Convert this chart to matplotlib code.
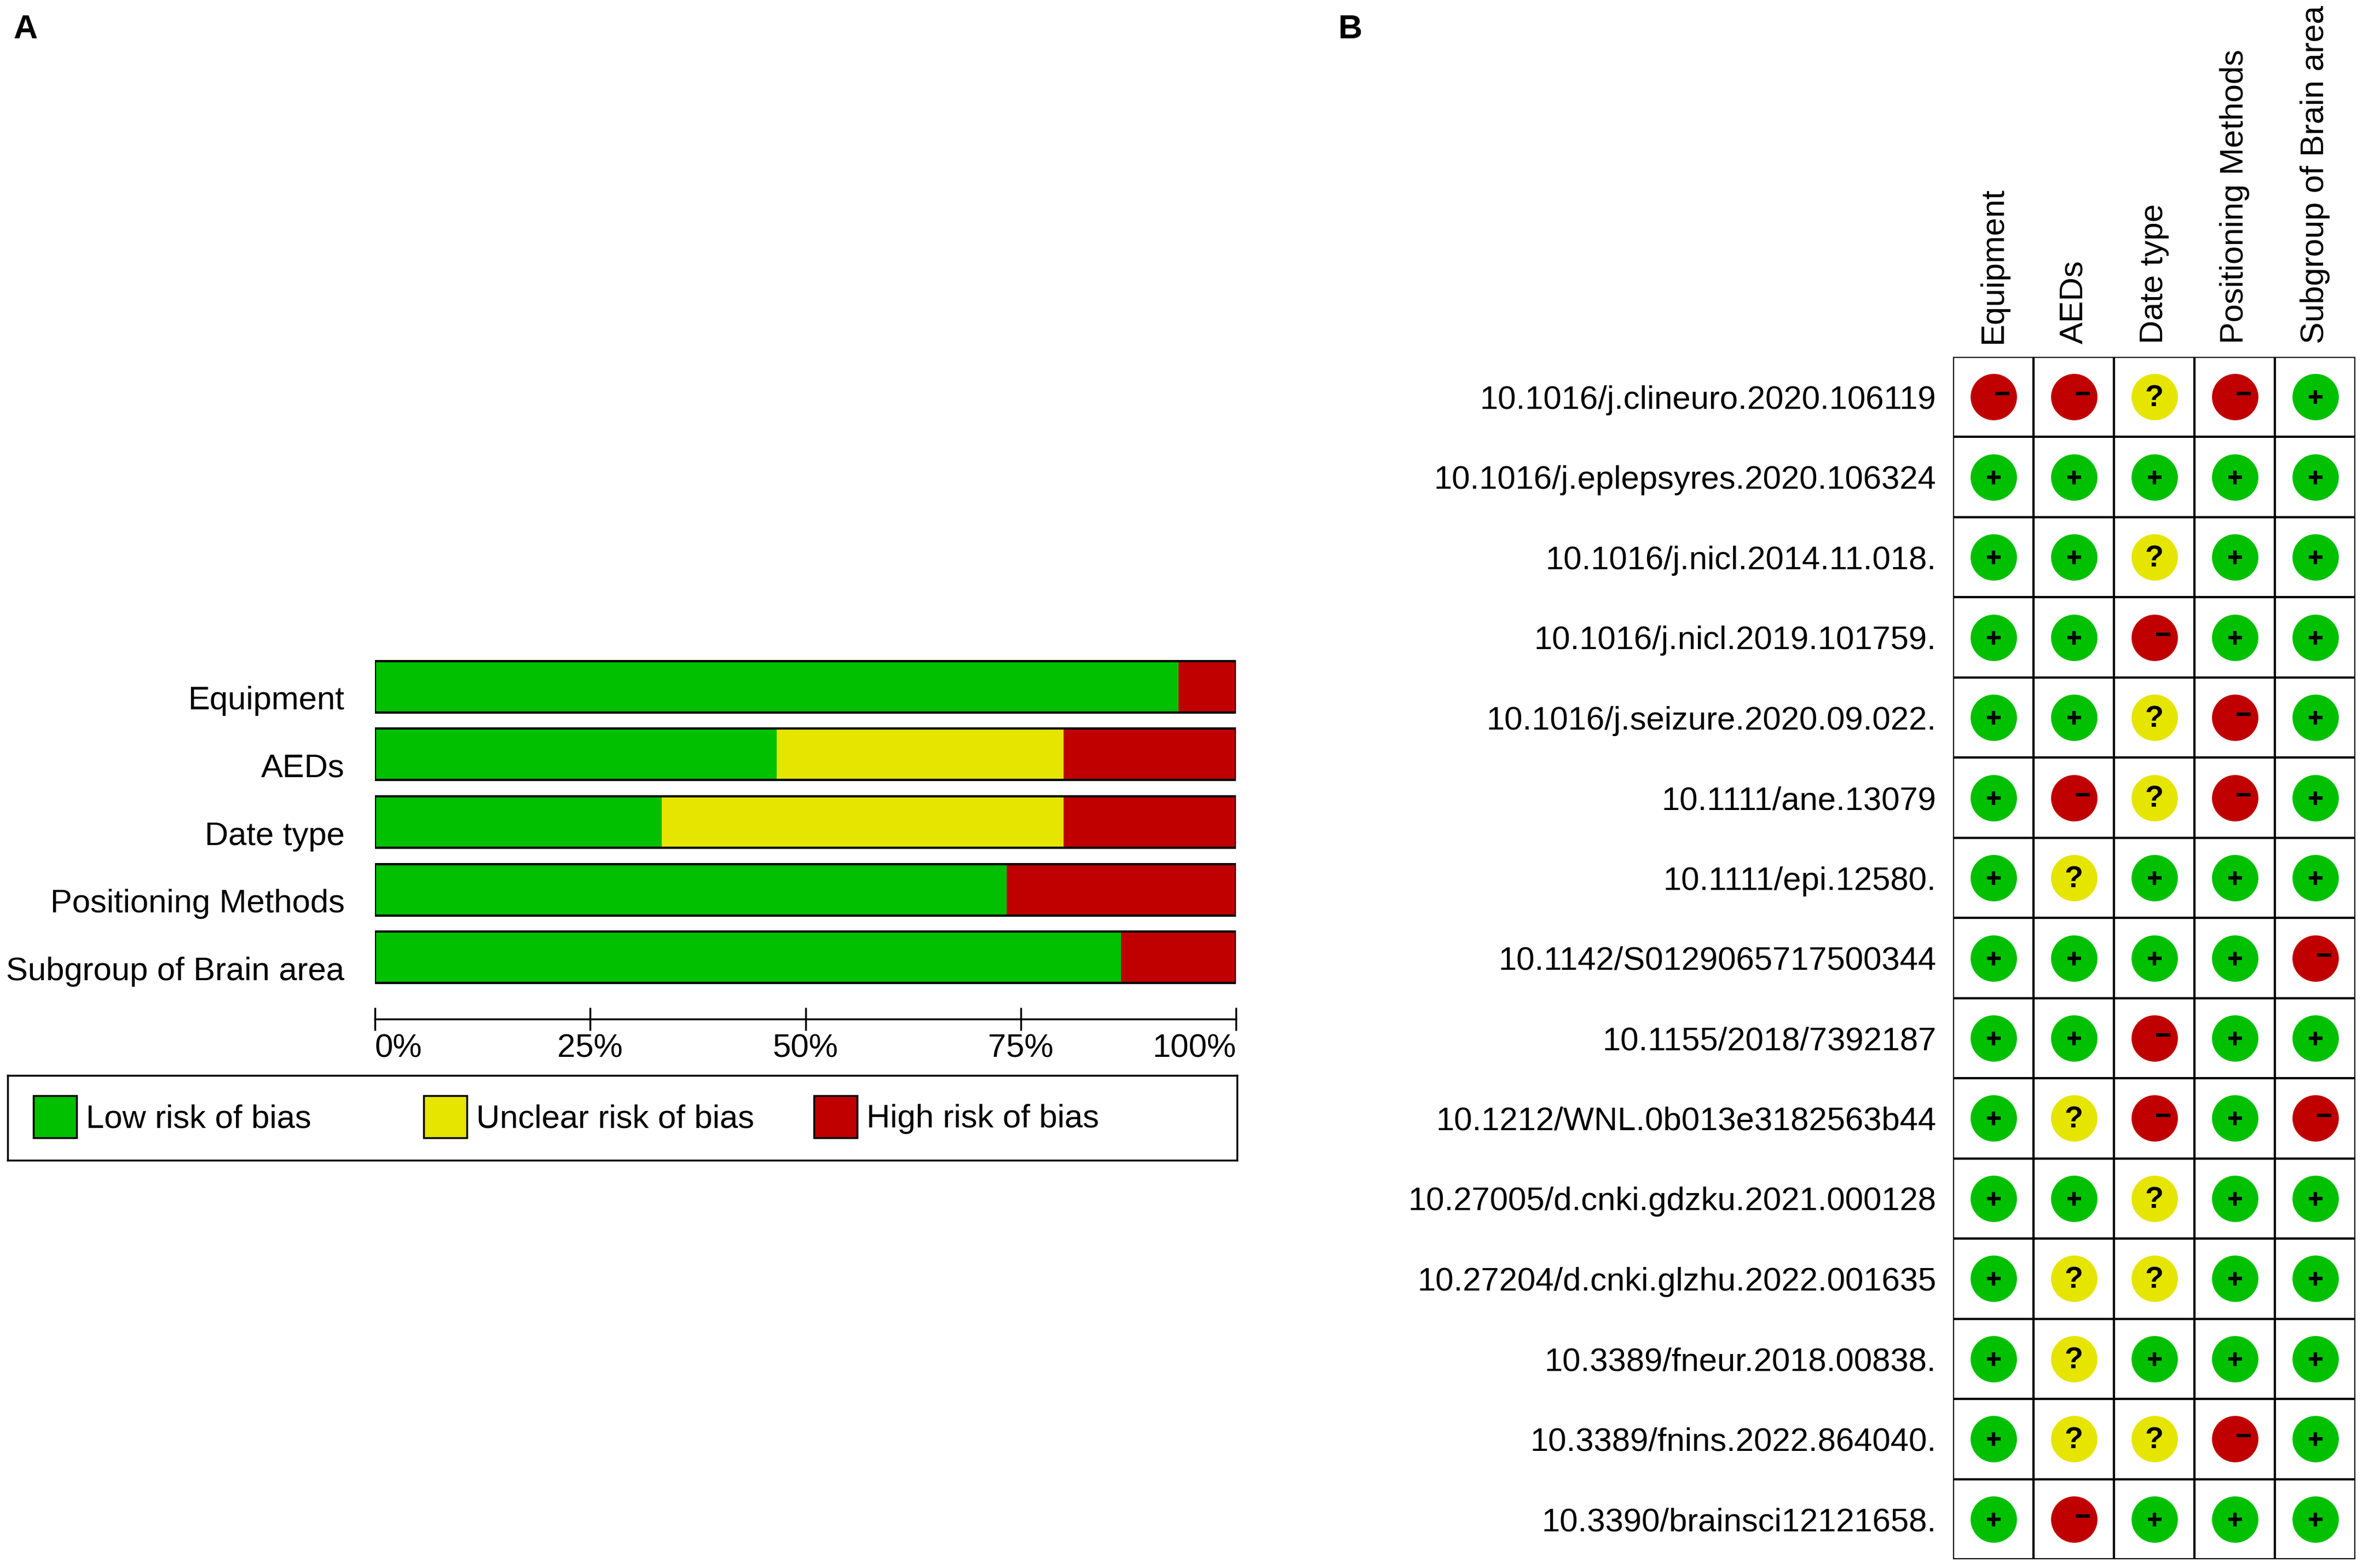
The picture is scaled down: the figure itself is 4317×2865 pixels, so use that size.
import matplotlib
matplotlib.use('Agg')
import matplotlib.pyplot as plt
import numpy as np
from matplotlib.patches import Rectangle
from matplotlib.transforms import ScaledTranslation

plt.rcParams['font.family'] = ['Liberation Sans', 'DejaVu Sans']

W, H = 4317, 2865
FS = 43

domains = ['Equipment', 'AEDs', 'Date type', 'Positioning Methods', 'Subgroup of Brain area']

studies = [
    '10.1016/j.clineuro.2020.106119',
    '10.1016/j.eplepsyres.2020.106324',
    '10.1016/j.nicl.2014.11.018.',
    '10.1016/j.nicl.2019.101759.',
    '10.1016/j.seizure.2020.09.022.',
    '10.1111/ane.13079',
    '10.1111/epi.12580.',
    '10.1142/S0129065717500344',
    '10.1155/2018/7392187',
    '10.1212/WNL.0b013e3182563b44',
    '10.27005/d.cnki.gdzku.2021.000128',
    '10.27204/d.cnki.glzhu.2022.001635',
    '10.3389/fneur.2018.00838.',
    '10.3389/fnins.2022.864040.',
    '10.3390/brainsci12121658.',
]

# one judgement per study, '+' low, '?' unclear, '-' high
equipment   = ['-', '+', '+', '+', '+', '+', '+', '+', '+', '+', '+', '+', '+', '+', '+']
aeds        = ['-', '+', '+', '+', '+', '-', '?', '+', '+', '?', '+', '?', '?', '?', '-']
date_type   = ['?', '+', '?', '-', '?', '?', '+', '+', '-', '-', '?', '?', '+', '?', '+']
positioning = ['-', '+', '+', '+', '-', '-', '+', '+', '+', '+', '+', '+', '+', '-', '+']
subgroup    = ['+', '+', '+', '+', '+', '+', '+', '-', '+', '-', '+', '+', '+', '+', '+']
judgements = [equipment, aeds, date_type, positioning, subgroup]

levels = ['+', '?', '-']
level_names = ['Low risk of bias', 'Unclear risk of bias', 'High risk of bias']
colors = {'+': '#00C000', '?': '#E5E500', '-': '#C00000'}


def px_axes(x0, y0, x1, y1):
    return fig.add_axes([x0 / W, 1 - y1 / H, (x1 - x0) / W, (y1 - y0) / H])


fig = plt.figure(figsize=(W / 100, H / 100), dpi=100)

# ---- panel A: summary bars ----
ax = px_axes(685, 1193, 2258, 1811)
ypos = np.arange(len(domains))
left = np.zeros(len(domains))
for lv in levels:
    pct = np.array([100 * j.count(lv) / len(j) for j in judgements])
    ax.barh(ypos, pct, left=left, height=0.76, color=colors[lv], edgecolor='none')
    left += pct
for y in ypos:
    ax.add_patch(Rectangle((0, y - 0.38), 100, 0.76, fill=False, edgecolor='black', lw=3))
ax.set_xlim(0, 100)
ax.set_ylim(len(domains) - 0.5, -0.5)
ax.set_yticks(ypos)
ax.set_yticklabels(domains, fontsize=FS)
ax.tick_params(axis='y', length=0, pad=40)
# labels sit a little below the bar centres in the original
shift = ScaledTranslation(0, -0.2, fig.dpi_scale_trans)
for lab in ax.get_yticklabels():
    lab.set_transform(lab.get_transform() + shift)
for s in ['top', 'right', 'left']:
    ax.spines[s].set_visible(False)
ax.spines['bottom'].set_position(('outward', 37))
ax.spines['bottom'].set_linewidth(2.5)
ax.set_xticks([0, 25, 50, 75, 100])
ax.set_xticklabels(['0%', '25%', '50%', '75%', '100%'], fontsize=FS)
ax.tick_params(axis='x', direction='inout', length=30, width=2.5, pad=4)
ticklabels = ax.get_xticklabels()
ticklabels[0].set_ha('left')
ticklabels[-1].set_ha('right')

# legend box
lg = px_axes(14, 1965, 2260, 2120)
lg.set_xlim(0, 2246)
lg.set_ylim(155, 0)
lg.set_xticks([])
lg.set_yticks([])
for s in lg.spines.values():
    s.set_linewidth(2.5)
for i, lv in enumerate(levels):
    x0 = 47 + i * 713
    lg.add_patch(Rectangle((x0, 37), 79, 77, facecolor=colors[lv], edgecolor='black', lw=2.5))
    lg.text(x0 + 96, 80, level_names[i], fontsize=FS, va='center', ha='left')

# ---- panel B: traffic-light grid ----
bx = px_axes(3568, 652, 4303, 2849)
nr, nc = len(studies), len(domains)
bx.set_xlim(0, nc)
bx.set_ylim(nr, 0)
bx.vlines(np.arange(nc + 1), 0, nr, color='black', lw=3)
bx.hlines(np.arange(nr + 1), 0, nc, color='black', lw=3)
for s in bx.spines.values():
    s.set_visible(False)
bx.xaxis.tick_top()
bx.set_xticks(np.arange(nc) + 0.5)
bx.set_xticklabels(domains, rotation=90, fontsize=FS, va='bottom', ha='center')
bx.set_yticks(np.arange(nr) + 0.5)
bx.set_yticklabels(studies, fontsize=FS)
bx.tick_params(length=0)
bx.tick_params(axis='x', pad=17)
bx.tick_params(axis='y', pad=22)

for c, col in enumerate(judgements):
    for r, j in enumerate(col):
        cx, cy = c + 0.5, r + 0.5
        bx.scatter(cx, cy, s=61 ** 2, color=colors[j], zorder=3, linewidths=0)
        if j == '+':
            bx.scatter(cx, cy, marker='+', s=18 ** 2, color='black', linewidths=4.5, zorder=4)
        elif j == '-':
            bx.scatter(cx + 0.11, cy - 0.04, marker='_', s=19 ** 2, color='black', linewidths=4.5, zorder=4)
        else:
            bx.text(cx, cy + 0.02, '?', fontsize=40, fontweight='bold', ha='center', va='center', zorder=4)

fig.text(47 / W, 1 - 55 / H, 'A', fontsize=44, fontweight='bold', ha='center', va='center')
fig.text(2467 / W, 1 - 55 / H, 'B', fontsize=44, fontweight='bold', ha='center', va='center')

fig.savefig('out.png', dpi=100)
